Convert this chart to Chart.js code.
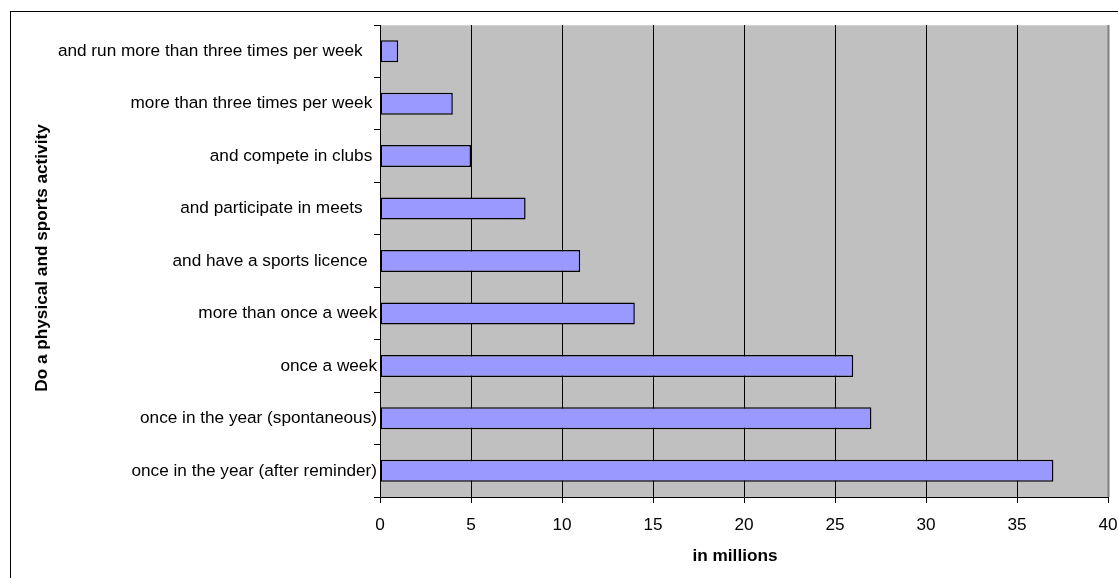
<!DOCTYPE html>
<html>
<head>
<meta charset="utf-8">
<script src="https://cdn.jsdelivr.net/npm/chart.js@4/dist/chart.umd.min.js"></script>
<style>
  html, body { margin: 0; padding: 0; background: #ffffff; }
  #wrap { width: 1118px; height: 578px; }
</style>
</head>
<body>
<div id="wrap"><canvas id="c" width="1118" height="578"></canvas></div>
<script>
// Activity levels, listed top to bottom (trailing spaces are part of the labels)
const categories = [
  "and run more than three times per week   ",
  "more than three times per week ",
  "and compete in clubs ",
  "and participate in meets   ",
  "and have a sports licence  ",
  "more than once a week",
  "once a week",
  "once in the year (spontaneous)",
  "once in the year (after reminder)"
];
// People concerned, in millions
const millions = [1, 4, 5, 8, 11, 14, 26, 27, 37];
const xMin = 0;
const xMax = 40;
const xStep = 5;
const yTitle = "Do a physical and sports activity";
const xTitle = "in millions";

const FONT = "'Liberation Sans', Arial, sans-serif";
const FS = 17.2;

// Chart frame, plot background and axis titles
const decor = {
  id: 'decor',
  beforeDraw(chart) {
    const { ctx, chartArea: a } = chart;
    ctx.save();
    ctx.fillStyle = '#ffffff';
    ctx.fillRect(0, 0, chart.width, chart.height);
    ctx.fillStyle = '#c0c0c0';
    ctx.fillRect(a.left, a.top, a.right - a.left, a.bottom - a.top);
    ctx.strokeStyle = '#d0d0d0';
    ctx.lineWidth = 1;
    ctx.beginPath();
    ctx.moveTo(a.left, a.top + 0.5);
    ctx.lineTo(a.right, a.top + 0.5);
    ctx.stroke();
    ctx.restore();
  },
  afterDraw(chart) {
    const { ctx, chartArea: a } = chart;
    ctx.save();
    // right edge of plot area
    ctx.strokeStyle = '#808080';
    ctx.lineWidth = 2;
    ctx.beginPath();
    ctx.moveTo(a.right + 0.5, a.top);
    ctx.lineTo(a.right + 0.5, a.bottom);
    ctx.stroke();
    // outer frame
    ctx.strokeStyle = '#000000';
    ctx.lineWidth = 1;
    ctx.strokeRect(10.5, 11.5, chart.width + 20, chart.height + 20);
    // axis titles
    ctx.fillStyle = '#000000';
    ctx.font = 'bold ' + FS + 'px ' + FONT;
    ctx.textAlign = 'center';
    ctx.textBaseline = 'middle';
    ctx.fillText(xTitle, 735, 556);
    ctx.translate(42, (a.top + a.bottom) / 2 - 3);
    ctx.rotate(-Math.PI / 2);
    ctx.fillText(yTitle, 0, 0);
    ctx.restore();
  }
};

new Chart(document.getElementById('c'), {
  type: 'bar',
  data: {
    labels: categories,
    datasets: [{
      data: millions,
      backgroundColor: '#9999ff',
      borderColor: '#000000',
      borderWidth: 1.5,
      borderSkipped: false,
      barPercentage: 0.42,
      categoryPercentage: 1.0
    }]
  },
  options: {
    indexAxis: 'y',
    responsive: false,
    animation: false,
    devicePixelRatio: 1,
    layout: { padding: { left: 0, top: 25, right: 0, bottom: 0 } },
    plugins: {
      legend: { display: false },
      tooltip: { enabled: false }
    },
    scales: {
      x: {
        type: 'linear',
        min: xMin,
        max: xMax,
        ticks: {
          stepSize: xStep,
          color: '#000000',
          padding: 12,
          font: { family: FONT, size: FS }
        },
        grid: {
          color: (c) => (c.tick && c.tick.value === xMax) ? 'rgba(0,0,0,0)' : '#000000',
          tickColor: '#000000',
          tickLength: 6,
          lineWidth: 1
        },
        border: { display: true, color: '#000000', width: 1 },
        afterFit(scale) {
          scale.height = 81;
          scale.paddingRight = 10;
        }
      },
      y: {
        type: 'category',
        ticks: {
          color: '#000000',
          padding: -3,
          autoSkip: false,
          font: { family: FONT, size: FS }
        },
        grid: {
          offset: true,
          drawOnChartArea: false,
          drawTicks: true,
          tickLength: 6,
          tickColor: '#000000',
          color: '#000000'
        },
        border: { display: true, color: '#000000', width: 1 },
        afterFit(scale) { scale.width = 380; }
      }
    }
  },
  plugins: [decor]
});
</script>
</body>
</html>
